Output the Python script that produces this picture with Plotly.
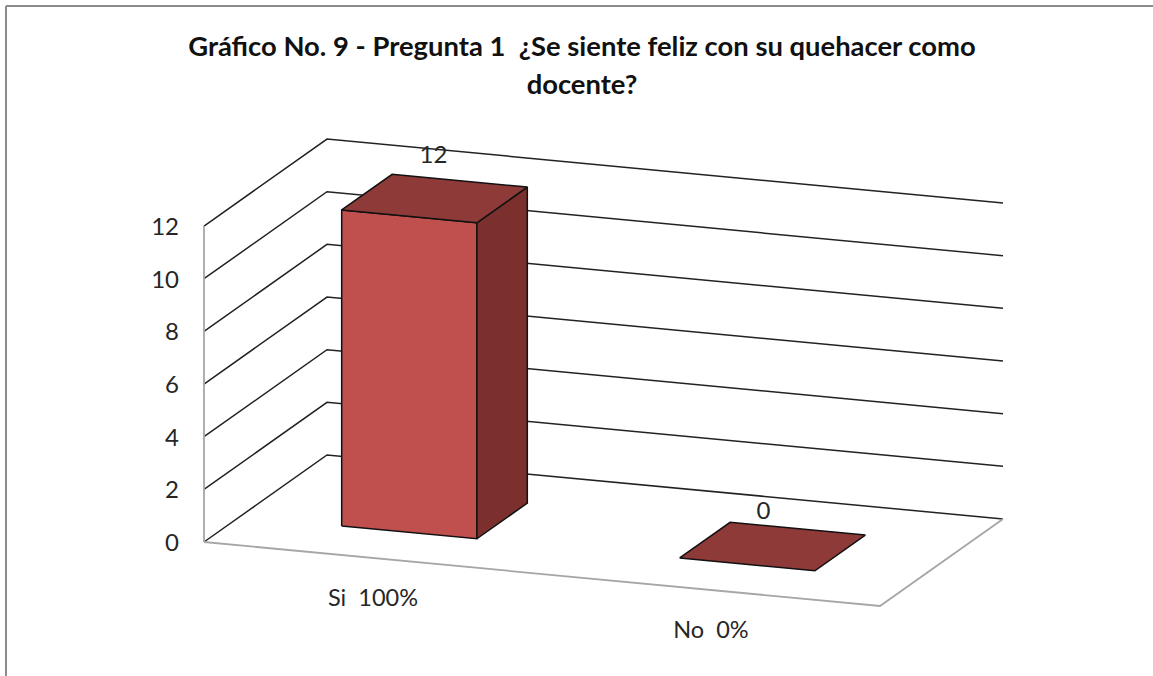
import plotly.graph_objects as go

categories = ["Si\u00a0\u00a0100%", "No\u00a0\u00a00%"]
values = [12, 0]
tick_values = [0, 2, 4, 6, 8, 10, 12]
title_lines = ["Gráfico No. 9 - Pregunta 1\u00a0\u00a0¿Se siente feliz con su quehacer como", "docente?"]

# Oblique projection of the chart box onto the page
ORIGIN = (204, 542)
X_VEC = (676, 64)     # full category axis
D_VEC = (123, -87)    # full depth
PX_PER_UNIT = 26.33
BAR_W = 0.2
BAR_D0, BAR_D1 = 0.295, 0.705
FONT = "Lato"


def proj(u, v, d):
    return (ORIGIN[0] + u * X_VEC[0] + d * D_VEC[0],
            ORIGIN[1] + u * X_VEC[1] + d * D_VEC[1] - v * PX_PER_UNIT)


def line(points, color, width=1.5):
    xs, ys = zip(*points)
    return go.Scatter(x=xs, y=ys, mode="lines", line=dict(color=color, width=width),
                      hoverinfo="skip", showlegend=False)


def face(points, fill):
    pts = points + points[:1]
    xs, ys = zip(*pts)
    return go.Scatter(x=xs, y=ys, mode="lines", fill="toself", fillcolor=fill,
                      line=dict(color="#111111", width=1.5), hoverinfo="skip", showlegend=False)


fig = go.Figure()

# Walls: gridlines at every tick
for t in tick_values:
    fig.add_trace(line([proj(0, t, 0), proj(0, t, 1), proj(1, t, 1)], "#222222"))

# Floor and value axis
GREY = "#a6a6a6"
fig.add_trace(line([proj(0, 0, 0), proj(1, 0, 0), proj(1, 0, 1)], GREY, 1.8))
fig.add_trace(line([proj(0, 0, 0), proj(0, max(tick_values), 0)], GREY, 1.8))

# Bars
n = len(categories)
for i, v in enumerate(values):
    c = (i + 0.5) / n
    u0, u1 = c - BAR_W / 2, c + BAR_W / 2
    if v > 0:
        fig.add_trace(face([proj(u0, 0, BAR_D0), proj(u1, 0, BAR_D0), proj(u1, v, BAR_D0), proj(u0, v, BAR_D0)], "#C0504D"))
        fig.add_trace(face([proj(u1, 0, BAR_D0), proj(u1, 0, BAR_D1), proj(u1, v, BAR_D1), proj(u1, v, BAR_D0)], "#7B302E"))
    fig.add_trace(face([proj(u0, v, BAR_D0), proj(u1, v, BAR_D0), proj(u1, v, BAR_D1), proj(u0, v, BAR_D1)], "#8E3A38"))

TEXT = dict(family=FONT, size=24, color="#262626")

# Value axis labels
tick_pts = [proj(0, t, 0) for t in tick_values]
fig.add_trace(go.Scatter(x=[p[0] - 25 for p in tick_pts], y=[p[1] + 3 for p in tick_pts],
                         mode="text", text=[str(t) for t in tick_values],
                         textposition="middle left", textfont=TEXT,
                         hoverinfo="skip", showlegend=False))

# Category labels
cat_pts = [proj((i + 0.5) / n, 0, 0) for i in range(n)]
fig.add_trace(go.Scatter(x=[p[0] for p in cat_pts], y=[p[1] + 42 for p in cat_pts],
                         mode="text", text=categories, textposition="middle center",
                         textfont=dict(family=FONT, size=23.5, color="#262626"),
                         hoverinfo="skip", showlegend=False))

# Data labels
label_off_x = [-1, -9]
label_off_y = [-42, -34]
lab_pts = [proj((i + 0.5) / n, v, 0.5) for i, v in enumerate(values)]
fig.add_trace(go.Scatter(x=[p[0] + o for p, o in zip(lab_pts, label_off_x)],
                         y=[p[1] + o for p, o in zip(lab_pts, label_off_y)],
                         mode="text", text=[str(v) for v in values], textposition="middle center",
                         textfont=TEXT, hoverinfo="skip", showlegend=False))

# Title
fig.add_trace(go.Scatter(x=[582, 582], y=[49, 87], mode="text", text=title_lines,
                         textposition="middle center",
                         textfont=dict(family=FONT, size=27.4, color="#111111", weight="bold"),
                         hoverinfo="skip", showlegend=False))

fig.update_layout(
    width=1153, height=676, autosize=False,
    margin=dict(l=0, r=0, t=0, b=0),
    paper_bgcolor="white", plot_bgcolor="white",
    xaxis=dict(range=[0, 1153], visible=False, fixedrange=True),
    yaxis=dict(range=[676, 0], visible=False, fixedrange=True),
    shapes=[dict(type="line", xref="paper", yref="paper", x0=6 / 1153, x1=6 / 1153, y0=0, y1=1 - 6 / 676,
                 line=dict(color="#8c8c8c", width=2), layer="below"),
            dict(type="line", xref="paper", yref="paper", x0=6 / 1153, x1=1, y0=1 - 6 / 676, y1=1 - 6 / 676,
                 line=dict(color="#8c8c8c", width=2), layer="below")],
)

fig.write_html("out.html", config=dict(displayModeBar=False),
               post_script="document.body.style.margin='0';document.body.style.overflow='hidden';")
